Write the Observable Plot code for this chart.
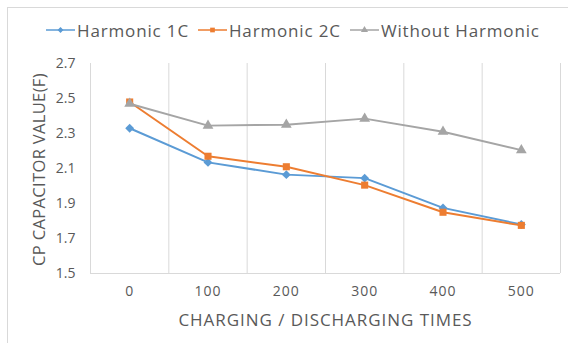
<!DOCTYPE html>
<html><head><meta charset="utf-8">
<script src="https://cdn.jsdelivr.net/npm/d3@7"></script>
<script src="https://cdn.jsdelivr.net/npm/@observablehq/plot@0.6"></script>
<style>
body{margin:0;background:#fff;font-family:"Open Sans", sans-serif;}
#wrap{position:relative;width:568px;height:343px;overflow:hidden;background:#fff}
#frame{position:absolute;left:7px;top:7px;width:570px;height:340px;border:1px solid #d9d9d9;box-sizing:border-box}
#legend{position:absolute;left:46px;top:19px;height:22px;display:flex;align-items:center;font-size:17px;letter-spacing:0.85px;color:#595959;white-space:nowrap}
.item{display:flex;align-items:center;margin-right:9px}
.item svg{margin-right:2px}
#chart{position:absolute;left:0;top:50px}
</style></head><body>
<div id="wrap"><div id="frame"></div><div id="legend"></div><div id="chart"></div></div>
<script>
const times = [0, 100, 200, 300, 400, 500];
const harmonic1C = [2.33, 2.135, 2.065, 2.045, 1.875, 1.78];
const harmonic2C = [2.48, 2.17, 2.11, 2.005, 1.85, 1.775];
const withoutHarmonic = [2.47, 2.345, 2.35, 2.385, 2.31, 2.205];
const yTicks = [1.5, 1.7, 1.9, 2.1, 2.3, 2.5, 2.7];
const seriesNames = ["Harmonic 1C", "Harmonic 2C", "Without Harmonic"];
const seriesValues = [harmonic1C, harmonic2C, withoutHarmonic];
const colors = ["#5b9bd5", "#ed7d31", "#a5a5a5"];
const symbols = ["diamond2", "square", "triangle"];
const xTitle = "CHARGING / DISCHARGING TIMES";
const yTitle = "CP CAPACITOR VALUE(F)";

const rows = seriesNames.flatMap((s, i) => times.map((t, j) => ({s, t, v: seriesValues[i][j]})));
const step = times[1] - times[0];
const bounds = [...times.map(t => t - step / 2), times[times.length - 1] + step / 2];

const marks = [
  Plot.ruleX(bounds, {y1: yTicks[0], y2: yTicks[yTicks.length - 1], stroke: "#d9d9d9"}),
  Plot.ruleY([yTicks[0]], {stroke: "#d9d9d9"}),
  Plot.axisY({ticks: yTicks, tickSize: 0, tickPadding: 15, tickFormat: d3.format(".1f"), label: null, fontSize: 14}),
  Plot.axisX({ticks: times, tickSize: 0, tickPadding: 13, label: null, fontSize: 14}),
  Plot.text([yTitle], {frameAnchor: "left", textAnchor: "middle", lineAnchor: "middle", dx: -51, dy: 1, rotate: -90, fontSize: 16.5}),
  Plot.text([xTitle], {frameAnchor: "bottom", textAnchor: "middle", lineAnchor: "middle", dy: 47, fontSize: 17})
];
seriesNames.forEach((s, i) => {
  const d = rows.filter(r => r.s === s);
  marks.push(Plot.line(d, {x: "t", y: "v", stroke: colors[i], strokeWidth: 2}));
  marks.push(Plot.dot(d, {x: "t", y: "v", symbol: symbols[i], fill: colors[i], stroke: "none", r: 4}));
});

const chart = Plot.plot({
  width: 568, height: 293,
  marginLeft: 90, marginRight: 8, marginTop: 13, marginBottom: 70,
  style: {fontFamily: "'Open Sans', sans-serif", color: "#595959", background: "transparent"},
  x: {type: "linear", domain: [bounds[0], bounds[bounds.length - 1]]},
  y: {domain: [yTicks[0], yTicks[yTicks.length - 1]]},
  marks
});
document.getElementById("chart").appendChild(chart);
const svgSel = d3.select(chart);
svgSel.selectAll("text").filter(function () { return this.textContent === xTitle; }).style("letter-spacing", "0.95px");
svgSel.selectAll("text").filter(function () { return this.textContent === yTitle; }).style("letter-spacing", "0.35px");
svgSel.selectAll("text").filter(function () { return times.map(String).includes(this.textContent); }).style("letter-spacing", "1px");

const d3sym = {diamond2: d3.symbolDiamond2, square: d3.symbolSquare, triangle: d3.symbolTriangle};
const legend = d3.select("#legend");
seriesNames.forEach((s, i) => {
  const item = legend.append("div").attr("class", "item");
  const svg = item.append("svg").attr("width", 29).attr("height", 12);
  svg.append("line").attr("x1", 0).attr("x2", 29).attr("y1", 6).attr("y2", 6).attr("stroke", colors[i]).attr("stroke-width", 1.5);
  svg.append("path").attr("transform", "translate(14.5,6)").attr("d", d3.symbol(d3sym[symbols[i]], 22)()).attr("fill", colors[i]);
  item.append("span").text(s);
});
</script>
</body></html>
